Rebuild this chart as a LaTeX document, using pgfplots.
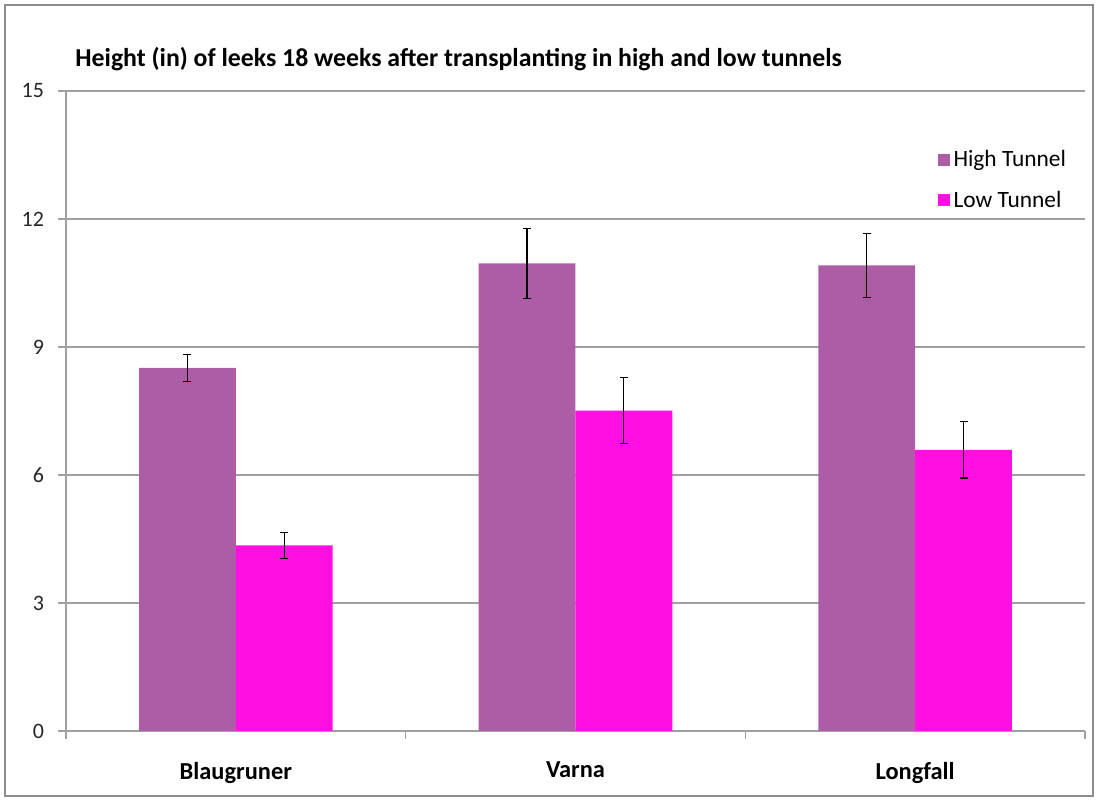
\documentclass[border=0pt]{standalone}
\usepackage{pgfplots}
\pgfplotsset{compat=1.18}
\usepackage{fontspec}
\setmainfont{Carlito}
\definecolor{hiC}{RGB}{173,93,165}
\definecolor{loC}{RGB}{255,16,226}
\definecolor{gridC}{RGB}{160,160,160}
\definecolor{frameC}{RGB}{140,140,140}
\begin{document}
\begin{tikzpicture}
\useasboundingbox (-33pt,-35pt) rectangle (517pt,365.5pt);
\draw[frameC, line width=0.8pt] (-30.5pt,-32.5pt) rectangle (513.5pt,363pt);
\node[anchor=base west, inner sep=0pt, font=\bfseries\fontsize{12.9}{14}\selectfont] at (4.5pt,332pt) {Height (in) of leeks 18 weeks after transplanting in high and low tunnels};
\begin{axis}[
  at={(0pt,0pt)}, anchor=south west, scale only axis,
  width=509.5pt, height=320pt,
  xmin=-0.5, xmax=2.5, ymin=0, ymax=15,
  ytick={0,3,6,9,12,15},
  xtick={0,1,2}, xticklabels={Blaugruner,Varna,Longfall},
  minor xtick={-0.5,0.5,1.5,2.5},
  major x tick style={draw=none},
  minor x tick style={gridC, line width=0.8pt},
  minor tick length=4pt,
  major tick length=4pt,
  tick align=outside,
  y tick style={gridC, line width=0.8pt},
  axis x line*=bottom, axis y line*=left,
  axis line style={-, gridC, line width=0.8pt},
  ymajorgrids, grid style={gridC, line width=0.8pt},
  ybar=0pt, bar width=0.285,
  /pgf/number format/assume math mode=true,
  yticklabel style={font=\fontsize{11}{13}\selectfont, text=black!85, xshift=-3.5pt},
  xticklabel style={font=\bfseries\fontsize{12.2}{14}\selectfont, yshift=-8pt},
  legend style={at={(0.849,0.92)}, anchor=north west, draw=none, fill=none,
    font=\fontsize{11.7}{14}\selectfont, row sep=6.5pt,
    /tikz/every even column/.append style={column sep=3pt}},
  legend cell align=left,
  legend image code/.code={\fill[#1] (1pt,-3pt) rectangle (7pt,3pt);},
  error bars/error bar style={black, line width=0.6pt},
  error bars/error mark options={black, rotate=90, mark size=2pt, line width=0.6pt},
]
\addplot[fill=hiC, draw=none, error bars/.cd, y dir=both, y explicit]
  coordinates {(0,8.51) +- (0,0.31) (1,10.96) +- (0,0.82) (2,10.91) +- (0,0.75)};
\addplot[fill=loC, draw=none, error bars/.cd, y dir=both, y explicit]
  coordinates {(0,4.35) +- (0,0.31) (1,7.51) +- (0,0.77) (2,6.59) +- (0,0.66)};
\legend{High Tunnel, Low Tunnel}
\end{axis}
\end{tikzpicture}
\end{document}
